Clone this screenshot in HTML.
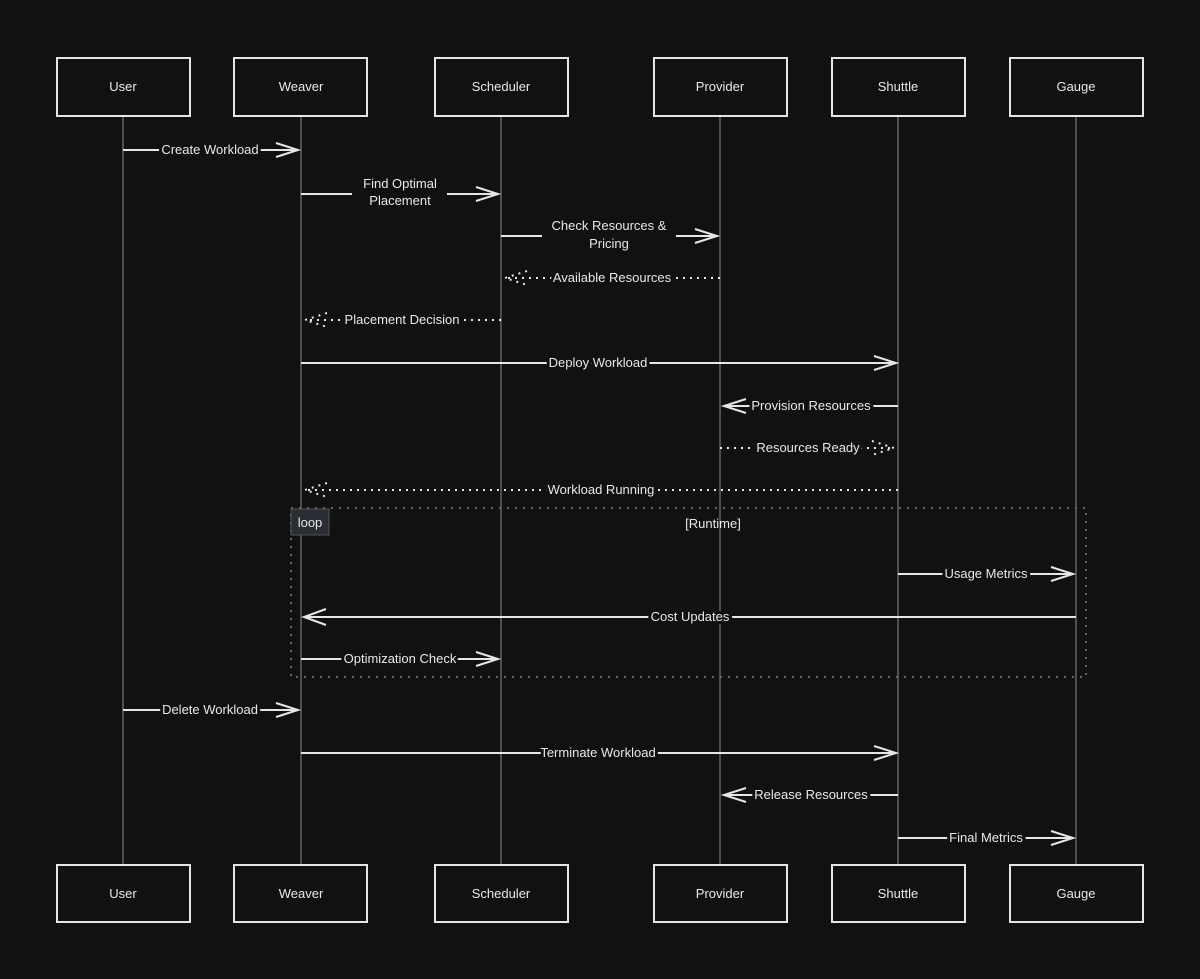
<!DOCTYPE html>
<html><head><meta charset="utf-8"><style>
html,body{margin:0;padding:0;background:#111111;}
svg{display:block}
text{font-family:"Liberation Sans",sans-serif;font-size:13px;fill:#e8e8e8;}
.lbl{paint-order:stroke;stroke:#111111;stroke-width:6px;text-anchor:middle;}
.box{fill:#111111;stroke:#e6e6e6;stroke-width:2}
.life{stroke:#777;stroke-width:1.2}
.m{stroke:#e6e6e6;stroke-width:2;fill:none}
.d{stroke:#e6e6e6;stroke-width:2;fill:none;stroke-dasharray:2 5}
</style></head><body>
<svg width="1200" height="979" viewBox="0 0 1200 979">
<rect width="1200" height="979" fill="#111111"/>
<g class="life">
<line x1="123" y1="116" x2="123" y2="865"/>
<line x1="301" y1="116" x2="301" y2="865"/>
<line x1="501" y1="116" x2="501" y2="865"/>
<line x1="720" y1="116" x2="720" y2="865"/>
<line x1="898" y1="116" x2="898" y2="865"/>
<line x1="1076" y1="116" x2="1076" y2="865"/>
</g>
<rect x="291" y="508" width="795" height="169" fill="none" stroke="#666" stroke-width="2" stroke-dasharray="2 6"/>
<rect x="291" y="509" width="38" height="26" fill="#2a2d33" stroke="#555" stroke-width="1"/>
<text x="310" y="527" text-anchor="middle">loop</text>
<text x="713" y="528" text-anchor="middle">[Runtime]</text>
<g>
<rect class="box" x="57" y="58" width="133" height="58"/><text x="123" y="91" text-anchor="middle">User</text>
<rect class="box" x="234" y="58" width="133" height="58"/><text x="301" y="91" text-anchor="middle">Weaver</text>
<rect class="box" x="435" y="58" width="133" height="58"/><text x="501" y="91" text-anchor="middle">Scheduler</text>
<rect class="box" x="654" y="58" width="133" height="58"/><text x="720" y="91" text-anchor="middle">Provider</text>
<rect class="box" x="832" y="58" width="133" height="58"/><text x="898" y="91" text-anchor="middle">Shuttle</text>
<rect class="box" x="1010" y="58" width="133" height="58"/><text x="1076" y="91" text-anchor="middle">Gauge</text>
<rect class="box" x="57" y="865" width="133" height="57"/><text x="123" y="898" text-anchor="middle">User</text>
<rect class="box" x="234" y="865" width="133" height="57"/><text x="301" y="898" text-anchor="middle">Weaver</text>
<rect class="box" x="435" y="865" width="133" height="57"/><text x="501" y="898" text-anchor="middle">Scheduler</text>
<rect class="box" x="654" y="865" width="133" height="57"/><text x="720" y="898" text-anchor="middle">Provider</text>
<rect class="box" x="832" y="865" width="133" height="57"/><text x="898" y="898" text-anchor="middle">Shuttle</text>
<rect class="box" x="1010" y="865" width="133" height="57"/><text x="1076" y="898" text-anchor="middle">Gauge</text>
</g>
<line class="m" x1="123" y1="150" x2="298" y2="150"/><path class="m" d="M276 143 L298 150 L276 157"/>
<text class="lbl" x="210" y="154">Create Workload</text>

<line class="m" x1="301" y1="194" x2="352" y2="194"/><line class="m" x1="447" y1="194" x2="498" y2="194"/><path class="m" d="M476 187 L498 194 L476 201"/>
<text class="lbl" x="400" y="188">Find Optimal</text><text class="lbl" x="400" y="205">Placement</text>

<line class="m" x1="501" y1="236" x2="542" y2="236"/><line class="m" x1="676" y1="236" x2="717" y2="236"/><path class="m" d="M695 229 L717 236 L695 243"/>
<text class="lbl" x="609" y="230">Check Resources &amp;</text><text class="lbl" x="609" y="248">Pricing</text>

<line class="d" x1="720" y1="278" x2="505" y2="278"/><path class="d" d="M527 271 L505 278 L527 285"/>
<text class="lbl" x="612" y="282">Available Resources</text>

<line class="d" x1="501" y1="320" x2="305" y2="320"/><path class="d" d="M327 313 L305 320 L327 327"/>
<text class="lbl" x="402" y="324">Placement Decision</text>

<line class="m" x1="301" y1="363" x2="896" y2="363"/><path class="m" d="M874 356 L896 363 L874 370"/>
<text class="lbl" x="598" y="367">Deploy Workload</text>

<line class="m" x1="898" y1="406" x2="724" y2="406"/><path class="m" d="M746 399 L724 406 L746 413"/>
<text class="lbl" x="811" y="410">Provision Resources</text>

<line class="d" x1="720" y1="448" x2="894" y2="448"/><path class="d" d="M872 441 L894 448 L872 455"/>
<text class="lbl" x="808" y="452">Resources Ready</text>

<line class="d" x1="898" y1="490" x2="305" y2="490"/><path class="d" d="M327 483 L305 490 L327 497"/>
<text class="lbl" x="601" y="494">Workload Running</text>

<line class="m" x1="898" y1="574" x2="1073" y2="574"/><path class="m" d="M1051 567 L1073 574 L1051 581"/>
<text class="lbl" x="986" y="578">Usage Metrics</text>

<line class="m" x1="1076" y1="617" x2="304" y2="617"/><path class="m" d="M326 609 L304 617 L326 625"/>
<text class="lbl" x="690" y="621">Cost Updates</text>

<line class="m" x1="301" y1="659" x2="498" y2="659"/><path class="m" d="M476 652 L498 659 L476 666"/>
<text class="lbl" x="400" y="663">Optimization Check</text>

<line class="m" x1="123" y1="710" x2="298" y2="710"/><path class="m" d="M276 703 L298 710 L276 717"/>
<text class="lbl" x="210" y="714">Delete Workload</text>

<line class="m" x1="301" y1="753" x2="896" y2="753"/><path class="m" d="M874 746 L896 753 L874 760"/>
<text class="lbl" x="598" y="757">Terminate Workload</text>

<line class="m" x1="898" y1="795" x2="724" y2="795"/><path class="m" d="M746 788 L724 795 L746 802"/>
<text class="lbl" x="811" y="799">Release Resources</text>

<line class="m" x1="898" y1="838" x2="1073" y2="838"/><path class="m" d="M1051 831 L1073 838 L1051 845"/>
<text class="lbl" x="986" y="842">Final Metrics</text>
</svg>
</body></html>
